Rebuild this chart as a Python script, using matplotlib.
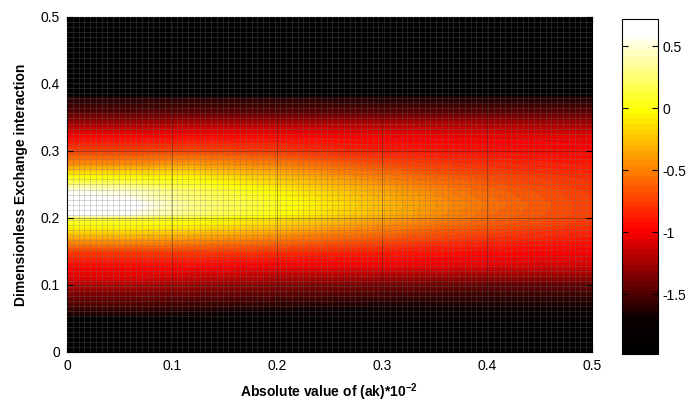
import numpy as np
import matplotlib
matplotlib.use("Agg")
import matplotlib.pyplot as plt
from matplotlib.colors import LinearSegmentedColormap
from matplotlib.ticker import FixedLocator, FuncFormatter

plt.rcParams['font.family'] = ['Liberation Sans', 'DejaVu Sans']
plt.rcParams['mathtext.fontset'] = 'custom'
plt.rcParams['mathtext.rm'] = 'Liberation Sans'
plt.rcParams['mathtext.bf'] = 'Liberation Sans:bold'

# ---- data ----
x_cols = [0.0, 0.06, 0.12, 0.2, 0.3, 0.4, 0.5]
y_rows = [0.0, 0.05, 0.055, 0.07, 0.09, 0.11, 0.13, 0.15, 0.17, 0.19, 0.20, 0.205,
          0.22, 0.24, 0.26, 0.28, 0.30, 0.32, 0.34, 0.36, 0.38, 0.385, 0.5]
z_x000 = [-1.95, -1.95, -1.65, -1.5, -1.32, -1.07, -0.95, -0.75, -0.35, 0.0, 0.15, 0.62,
          0.72, 0.55, 0.0, -0.45, -0.75, -0.97, -1.25, -1.5, -1.62, -1.95, -1.95]
z_x006 = [-1.95, -1.95, -1.65, -1.5, -1.32, -1.07, -0.95, -0.75, -0.35, 0.0, 0.12, 0.55,
          0.65, 0.45, -0.02, -0.45, -0.75, -0.97, -1.25, -1.5, -1.62, -1.95, -1.95]
z_x012 = [-1.95, -1.95, -1.7, -1.55, -1.37, -1.15, -0.95, -0.75, -0.4, -0.05, 0.05, 0.25,
          0.3, 0.2, -0.05, -0.4, -0.72, -0.95, -1.2, -1.48, -1.62, -1.95, -1.95]
z_x020 = [-1.95, -1.95, -1.78, -1.6, -1.42, -1.22, -1.0, -0.8, -0.5, -0.2, -0.1, 0.0,
          0.05, -0.05, -0.25, -0.5, -0.78, -0.95, -1.2, -1.48, -1.62, -1.95, -1.95]
z_x030 = [-1.95, -1.95, -1.82, -1.65, -1.47, -1.27, -1.0, -0.88, -0.65, -0.45, -0.35, -0.3,
          -0.28, -0.35, -0.5, -0.7, -0.88, -1.0, -1.2, -1.48, -1.65, -1.95, -1.95]
z_x040 = [-1.95, -1.95, -1.82, -1.65, -1.52, -1.32, -1.05, -0.95, -0.8, -0.65, -0.6, -0.58,
          -0.55, -0.6, -0.7, -0.82, -0.93, -1.02, -1.22, -1.48, -1.65, -1.95, -1.95]
z_x050 = [-1.95, -1.95, -1.82, -1.65, -1.52, -1.32, -1.1, -1.0, -0.9, -0.8, -0.77, -0.75,
          -0.75, -0.77, -0.82, -0.9, -0.97, -1.05, -1.25, -1.48, -1.65, -1.95, -1.95]
clim = (-1.98, 0.72)
axis_ticks = [0, 0.1, 0.2, 0.3, 0.4, 0.5]
cbar_ticks = [-1.5, -1, -0.5, 0, 0.5]

Z = np.column_stack([z_x000, z_x006, z_x012, z_x020, z_x030, z_x040, z_x050])

cmap = LinearSegmentedColormap.from_list(
    "hotlike",
    [(0.0, (0, 0, 0)), (0.1, (0.04, 0, 0)), (0.37, (1, 0, 0)),
     (0.73, (1, 1, 0)), (0.96, (1, 1, 1)), (1.0, (1, 1, 1))], N=64)

fig = plt.figure(figsize=(6.89, 4.03), dpi=100)
ax = fig.add_axes([0.0972, 0.1266, 0.7618, 0.8314])
cax = fig.add_axes([0.9028, 0.1216, 0.0522, 0.8313])

levels = np.linspace(clim[0], clim[1], 65)
cs = ax.contourf(x_cols, y_rows, Z, levels=levels, cmap=cmap, antialiased=False)

ax.set_xlim(0, 0.5)
ax.set_ylim(0, 0.5)
fmt = FuncFormatter(lambda v, p: f"{v:g}")
ax.xaxis.set_major_locator(FixedLocator(axis_ticks))
ax.yaxis.set_major_locator(FixedLocator(axis_ticks))
ax.xaxis.set_major_formatter(fmt)
ax.yaxis.set_major_formatter(fmt)
ax.xaxis.set_minor_locator(FixedLocator(np.linspace(0, 0.5, 92)))
ax.yaxis.set_minor_locator(FixedLocator(np.linspace(0, 0.5, 67)))
ax.tick_params(which='major', direction='in', top=True, right=True, length=4,
               width=0.8, labelsize=10, pad=5)
ax.tick_params(which='minor', length=0)
ax.set_axisbelow(False)
ax.grid(which='minor', color=(0.45, 0.45, 0.45), alpha=0.38, linewidth=0.5)
ax.grid(which='major', color=(0.15, 0.15, 0.15), alpha=0.4, linewidth=0.7)
for s in ax.spines.values():
    s.set_linewidth(0.8)

ax.set_xlabel(r"Absolute value of (ak)*10$^{\mathbf{-2}}$", fontsize=10,
              fontweight='bold', labelpad=6)
ax.set_ylabel("Dimensionless Exchange interaction", fontsize=10,
              fontweight='bold', labelpad=9)

cb = fig.colorbar(cs, cax=cax, ticks=cbar_ticks)
cb.ax.yaxis.set_major_formatter(fmt)
cb.ax.tick_params(direction='in', left=True, right=True, length=4, width=0.8,
                  labelsize=10, pad=3)
cb.outline.set_linewidth(0.8)
cb.ax.set_ylim(clim)

fig.savefig("out.png", dpi=100)
